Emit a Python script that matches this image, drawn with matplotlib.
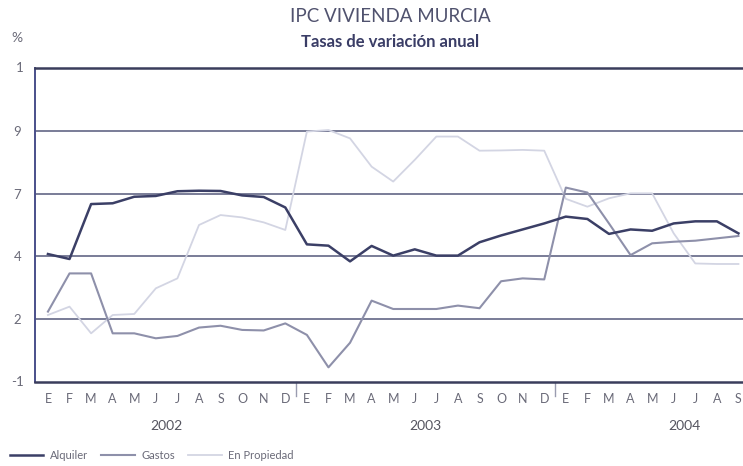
import matplotlib.pyplot as plt
import matplotlib.transforms as mtransforms
import numpy as np

plt.rcParams['font.family'] = ['Lato', 'DejaVu Sans']

meses = ["E", "F", "M", "A", "M", "J", "J", "A", "S", "O", "N", "D"] * 2 + \
        ["E", "F", "M", "A", "M", "J", "J", "A", "S"]
anios = ["2002", "2003", "2004"]

alquiler = [3.89, 3.70, 5.80, 5.83, 6.08, 6.11, 6.29, 6.31, 6.30, 6.13, 6.07, 5.67,
            4.26, 4.21, 3.61, 4.20, 3.83, 4.07, 3.83, 3.83, 4.34, 4.60,
            4.83, 5.06, 5.32, 5.23, 4.66, 4.83, 4.78, 5.06, 5.14, 5.14, 4.68]
gastos = [1.69, 3.15, 3.15, 0.86, 0.86, 0.67, 0.76, 1.08, 1.15, 0.99, 0.97, 1.24,
          0.80, -0.44, 0.50, 2.11, 1.79, 1.79, 1.79, 1.92, 1.82, 2.85,
          2.96, 2.92, 6.43, 6.24, 5.06, 3.85, 4.30, 4.36, 4.40, 4.49, 4.58]
propiedad = [1.56, 1.88, 0.86, 1.56, 1.60, 2.58, 2.96, 5.00, 5.38, 5.29, 5.10, 4.81,
             8.57, 8.63, 8.31, 7.23, 6.66, 7.49, 8.38, 8.38, 7.84, 7.85,
             7.87, 7.84, 6.00, 5.70, 6.02, 6.21, 6.21, 4.68, 3.53, 3.51, 3.51]

y_ticks = [-1, 1.4, 3.8, 6.2, 8.6, 11]
y_labels = ["-1", "2", "4", "7", "9", "1"]

c_alq = "#3b3f66"
c_gas = "#8e90aa"
c_pro = "#d3d5e3"
c_txt = "#6a6a78"
c_grid = "#55597a"

fig = plt.figure(figsize=(7.43, 4.66), dpi=100)
ax = fig.add_axes([35 / 743, 1 - 382 / 466, 1 - 35 / 743 + 0.02, (382 - 68) / 466])

x = np.arange(len(meses))
ax.plot(x, propiedad, color=c_pro, lw=1.3, label="En Propiedad")
ax.plot(x, gastos, color=c_gas, lw=1.5, label="Gastos")
ax.plot(x, alquiler, color=c_alq, lw=1.8, label="Alquiler")

ax.set_ylim(y_ticks[0], y_ticks[-1])
ax.set_xlim(-0.6, 32.9)
ax.set_yticks(y_ticks[1:-1])
ax.set_yticklabels(y_labels[1:-1])
ax.yaxis.grid(True, color=c_grid, lw=1.1)
ax.set_axisbelow(True)
ax.tick_params(axis="y", length=0, pad=10, labelsize=9.5, labelcolor=c_txt)

ax.set_xticks(x)
ax.set_xticklabels(meses)
ax.tick_params(axis="x", length=0, pad=8, labelsize=9, labelcolor=c_txt)

for s in ["top", "bottom"]:
    ax.spines[s].set_color("#3a3d5c")
    ax.spines[s].set_linewidth(1.8)
ax.spines["left"].set_color("#4a4f8a")
ax.spines["left"].set_linewidth(1.4)
ax.spines["right"].set_visible(False)

# extremos del eje y
trans_y = mtransforms.blended_transform_factory(fig.transFigure, ax.transData)
fig.text(20 / 743, y_ticks[-1], y_labels[-1], transform=trans_y, ha="center",
         va="center", fontsize=9.5, color=c_txt)
fig.text(17 / 743, y_ticks[0], y_labels[0], transform=trans_y, ha="center",
         va="center", fontsize=9.5, color=c_txt)

# separadores de años y etiquetas
trans_x = mtransforms.blended_transform_factory(ax.transData, ax.transAxes)
for k in range(1, len(anios)):
    ax.plot([12 * k - 0.5] * 2, [0, -0.045], transform=trans_x, color="#9a9cb0",
            lw=1, clip_on=False)
for k, a in enumerate(anios):
    ax.text(12 * k + 5.5, -0.14, a, transform=trans_x, ha="center", va="center",
            fontsize=10, color="#555560")

fig.text(17 / 743, 1 - 38 / 466, "%", ha="center", va="center", fontsize=10,
         color=c_txt)
fig.text(0.525, 1 - 17 / 466, "IPC VIVIENDA MURCIA", ha="center", va="center",
         fontsize=13.5, color="#50526e")
fig.text(0.525, 1 - 42 / 466, "Tasas de variación anual", ha="center",
         va="center", fontsize=12, fontweight="bold", color="#3a3d66")

h, l = ax.get_legend_handles_labels()
leg = fig.legend(h[::-1], l[::-1], loc="lower left", bbox_to_anchor=(0.0, -0.01),
                 ncol=3, frameon=False, fontsize=8, handlelength=3,
                 columnspacing=1.2, handletextpad=0.6)
for t in leg.get_texts():
    t.set_color(c_txt)

fig.savefig("out.png", dpi=100)
